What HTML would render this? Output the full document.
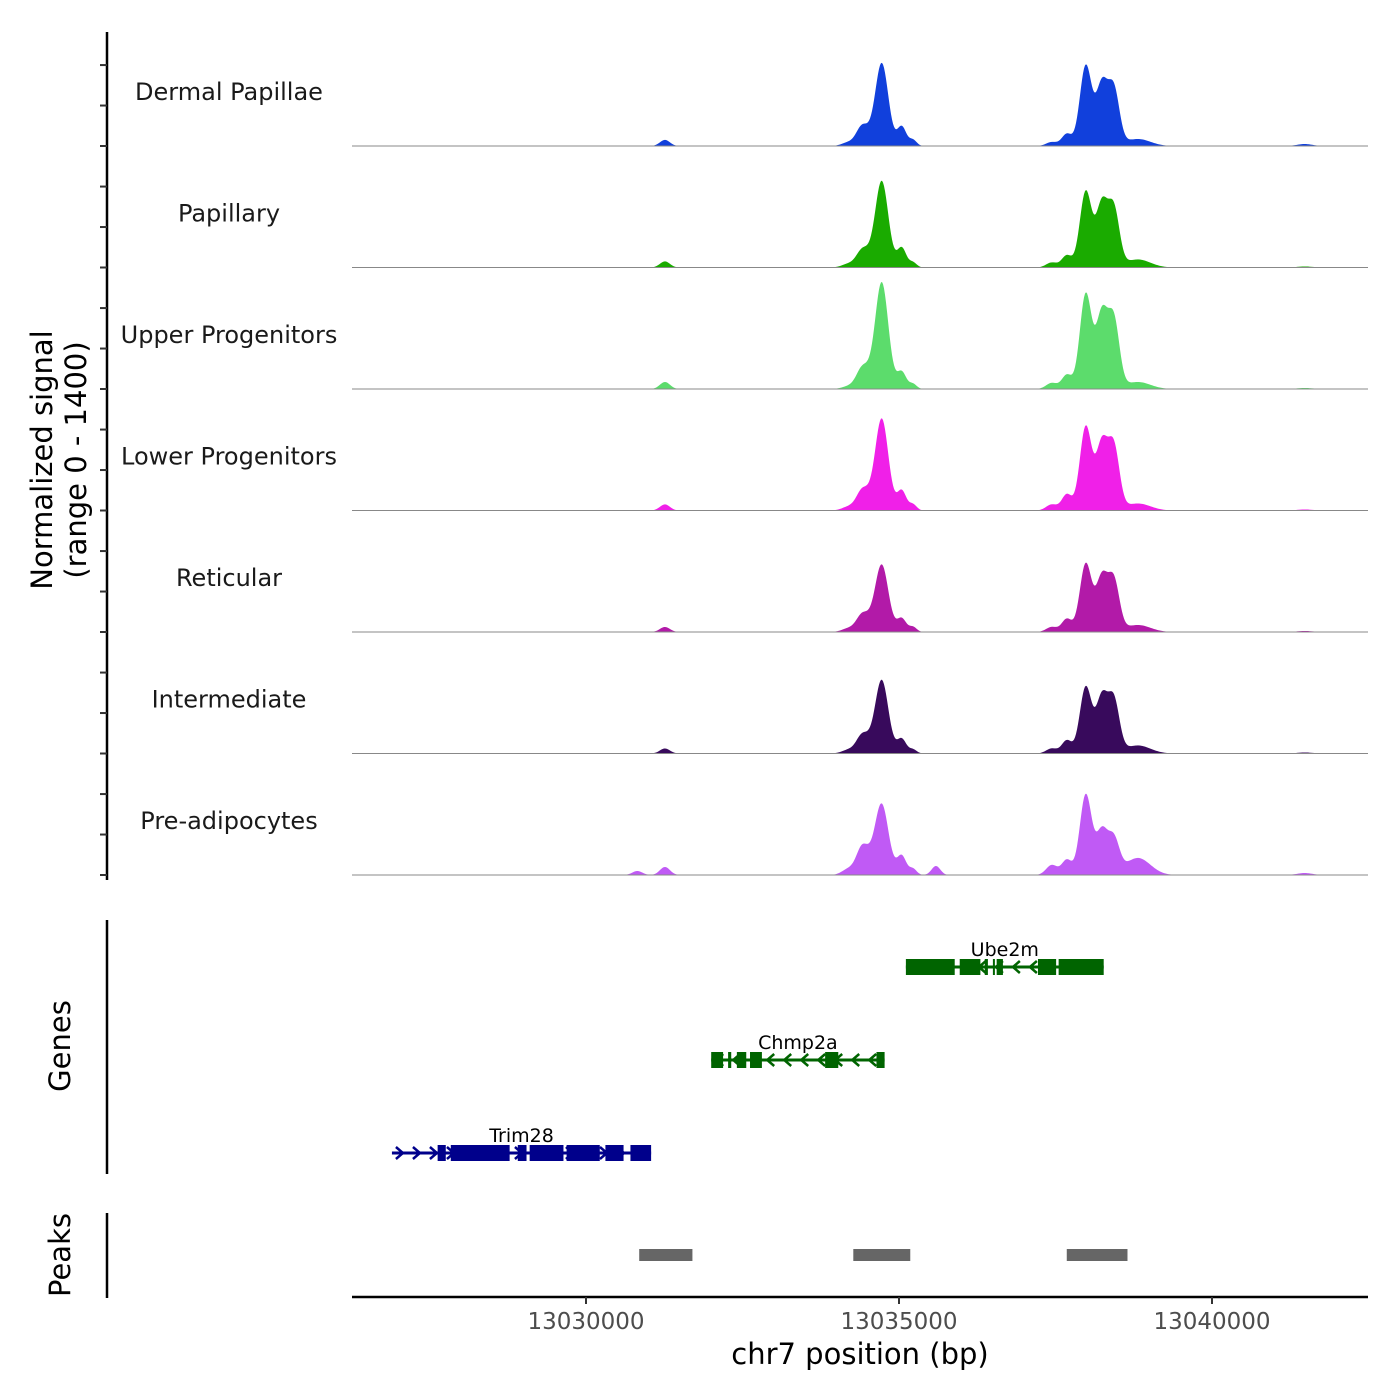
<!DOCTYPE html>
<html><head><meta charset="utf-8"><style>
html,body{margin:0;padding:0;background:#fff;}
svg{display:block;font-family:"DejaVu Sans","Liberation Sans",sans-serif;}
</style></head><body>
<svg id="chart" width="1400" height="1400" viewBox="0 0 1400 1400" xmlns="http://www.w3.org/2000/svg">
<g id="tracks"></g>
<g id="labels"></g>
<g id="yaxis"><line x1="107" y1="32" x2="107" y2="880" stroke="#000" stroke-width="2.5"/></g>
<text transform="translate(52,460) rotate(-90)" text-anchor="middle" font-size="29">Normalized signal</text>
<text transform="translate(86,460) rotate(-90)" text-anchor="middle" font-size="29">(range 0 - 1400)</text>
<line x1="107" y1="920" x2="107" y2="1174" stroke="#000" stroke-width="2.5"/>
<text transform="translate(70,1046) rotate(-90)" text-anchor="middle" font-size="29">Genes</text>
<g id="genes"></g>
<line x1="107" y1="1213" x2="107" y2="1298" stroke="#000" stroke-width="2.5"/>
<text transform="translate(70,1255) rotate(-90)" text-anchor="middle" font-size="29">Peaks</text>
<g id="peaks"></g>
<g id="xaxis"><line x1="352" y1="1297" x2="1368" y2="1297" stroke="#000" stroke-width="2.5"/></g>
<text x="860" y="1364" text-anchor="middle" font-size="29">chr7 position (bp)</text>
</svg>
<script>
const trackNames=["Dermal Papillae","Papillary","Upper Progenitors","Lower Progenitors","Reticular","Intermediate","Pre-adipocytes"];
const trackColors=["#1140dc","#1aab00","#5cdc6c","#f020e8","#b21aa8","#380a5c","#c05af5"];
const compCenters=[13031261,13034183,13034407,13034726,13034650,13035046,13035222,13037441,13037681,13037984,13038240,13038430,13038815,13041481,13030820,13035590];
const compWidths=[80,100,90,100,200,70,60,90,80,95,90,90,200,120,80,70];
const ampDP=[70,35,174,830,139,209,70,46,139,930,690,650,81,23,0,0];
const ampPap=[70,35,139,850,162,209,58,58,139,880,710,670,93,12,0,0];
const ampUP=[81,23,162,1040,209,174,58,70,162,1100,840,790,81,12,0,0];
const ampLP=[70,35,162,890,186,209,70,70,186,970,750,730,81,12,0,0];
const ampRet=[58,35,139,630,162,139,58,58,151,790,610,590,81,12,0,0];
const ampInt=[58,35,151,700,162,151,46,58,151,770,630,610,93,12,0,0];
const ampPre=[93,58,232,610,232,197,70,116,174,930,490,400,197,23,46,104];
const trackAmps=[ampDP,ampPap,ampUP,ampLP,ampRet,ampInt,ampPre];
const xTicks=[13030000,13035000,13040000];
const geneNames=["Ube2m","Chmp2a","Trim28"];
const geneStarts=[13035110,13032000,13026900];
const geneEnds=[13038270,13034770,13031040];
const geneStrands=[-1,-1,1];
const geneColors=["#006400","#006400","#00008b"];
const ube2mExons=[[13035110,13035890],[13035970,13036300],[13036370,13036420],[13036500,13036530],[13036560,13036660],[13037220,13037510],[13037550,13038270]];
const chmp2aExons=[[13032000,13032190],[13032270,13032320],[13032410,13032560],[13032620,13032810],[13033820,13034030],[13034640,13034770]];
const trim28Exons=[[13027630,13027760],[13027840,13028780],[13028910,13029050],[13029100,13029640],[13029690,13030220],[13030310,13030600],[13030710,13031040]];
const geneExons=[ube2mExons,chmp2aExons,trim28Exons];
const peakStarts=[13030850,13034270,13037680];
const peakEnds=[13031700,13035180,13038650];

const NS="http://www.w3.org/2000/svg";
const X0=13026262,X1=13042492,PX0=352,PX1=1368;
const xs=bp=>PX0+(bp-X0)/(X1-X0)*(PX1-PX0);
const bases=[146,267.5,389,510.5,632,753.5,875];
const TH=121.4,YMAX=1400;
function mk(tag,attrs,parent){const e=document.createElementNS(NS,tag);for(const k in attrs)e.setAttribute(k,attrs[k]);parent.appendChild(e);return e;}
const tracks=document.getElementById('tracks'),labels=document.getElementById('labels'),yaxis=document.getElementById('yaxis');
trackNames.forEach((name,t)=>{
  const b=bases[t],amps=trackAmps[t];
  let d=`M${PX0},${b}`;
  for(let px=PX0;px<=PX1;px+=1){
    const bp=X0+(px-PX0)/(PX1-PX0)*(X1-X0);
    let v=0;for(let i=0;i<compCenters.length;i++){const z=(bp-compCenters[i])/compWidths[i];v+=amps[i]*Math.exp(-0.5*z*z);}
    v=Math.min(v,YMAX);
    d+=`L${px},${(b-v/YMAX*TH).toFixed(2)}`;
  }
  d+=`L${PX1},${b}Z`;
  const p=mk('path',{d:d,fill:trackColors[t]},tracks);
  
  
  const bl=mk('line',{x1:PX0,y1:b,x2:PX1,y2:b,stroke:'#888','stroke-width':1},tracks);
  
  
  const lb=mk('text',{x:229,y:b-46,'text-anchor':'middle','font-size':24,fill:'#1a1a1a'},labels);
  lb.textContent=name;
  
  
  for(let j=0;j<3;j++){
    const y=b-j*TH/3;
    const tk=mk('line',{x1:100,y1:y,x2:107,y2:y,stroke:'#333','stroke-width':2},yaxis);
    
    
  }
});
const genes=document.getElementById('genes');
const gy=[967,1060,1153];
geneNames.forEach((g,i)=>{
  const c=geneColors[i],y=gy[i];
  const grp=mk('g',{},genes);
  
  
  mk('line',{x1:xs(geneStarts[i]),y1:y,x2:xs(geneEnds[i]),y2:y,stroke:c,'stroke-width':3},grp);
  const x0=xs(geneStarts[i]),x1=xs(geneEnds[i]);
  for(let ax=x0+8;ax<x1-4;ax+=17){
    const s=geneStrands[i];
    mk('path',{d:`M${ax-4*s},${y-6}L${ax+3*s},${y}L${ax-4*s},${y+6}`,fill:'none',stroke:c,'stroke-width':2.5},grp);
  }
  geneExons[i].forEach(e=>{mk('rect',{x:xs(e[0]),y:y-8,width:Math.max(2,xs(e[1])-xs(e[0])),height:16,fill:c},grp);});
  const t=mk('text',{x:(x0+x1)/2,y:y-11,'text-anchor':'middle','font-size':19,fill:'#000'},grp);
  t.textContent=g;
});
const peaks=document.getElementById('peaks');
peakStarts.forEach((s,i)=>{
  const r=mk('rect',{x:xs(s),y:1249,width:xs(peakEnds[i])-xs(s),height:12,fill:'#666'},peaks);
  
  
});
const xaxis=document.getElementById('xaxis');
xTicks.forEach(v=>{
  const x=xs(v);
  const tk=mk('line',{x1:x,y1:1297,x2:x,y2:1304,stroke:'#333','stroke-width':2},xaxis);
  
  
  const t=mk('text',{x:x,y:1329,'text-anchor':'middle','font-size':23,fill:'#4d4d4d'},xaxis);
  t.textContent=v;
  
  
});
</script>
</body></html>
